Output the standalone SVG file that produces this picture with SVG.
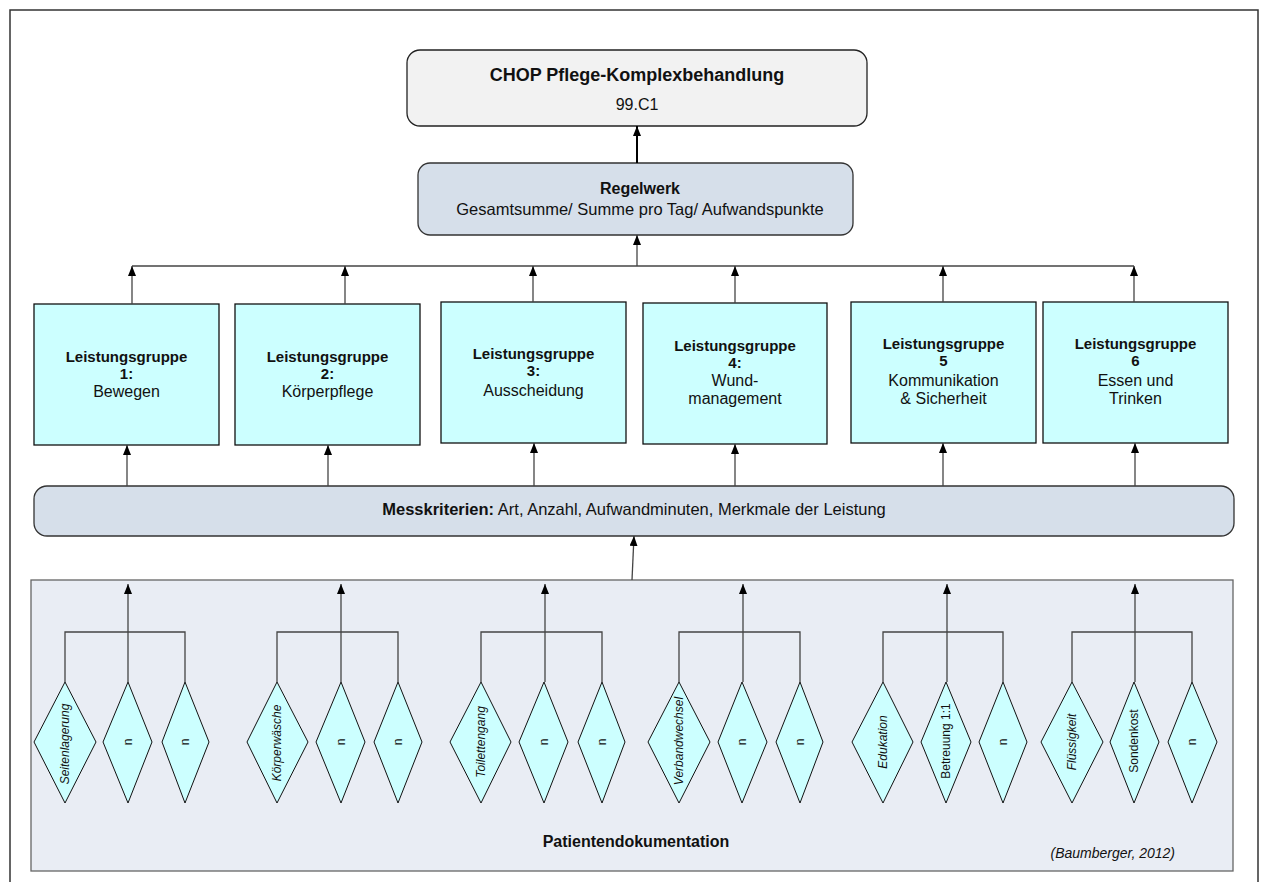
<svg xmlns="http://www.w3.org/2000/svg" width="1263" height="882" viewBox="0 0 1263 882">
<defs>
<marker id="ah" markerUnits="userSpaceOnUse" markerWidth="10" markerHeight="8" viewBox="0 0 10 8" refX="10" refY="4" orient="auto"><path d="M0,0 L10,4 L0,8 z" fill="#000"/></marker>
<style>
text{font-family:"Liberation Sans",Arial,sans-serif;fill:#111}
.b{font-weight:bold}
.lg{fill:#ccffff;stroke:#111;stroke-width:1.3}
.dm{fill:#ccffff;stroke:#111;stroke-width:1}
.c{fill:none;stroke:#444;stroke-width:1.3}
.ca{fill:none;stroke:#444;stroke-width:1.3;marker-end:url(#ah)}
.dt{font-size:12px;text-anchor:middle;dominant-baseline:central}
.i{font-style:italic}
.lt{font-size:16px;text-anchor:middle}
.lb{font-size:15px;font-weight:bold;text-anchor:middle}
</style>
</defs>
<rect x="0" y="0" width="1263" height="882" fill="#fff"/>
<path d="M10,882 V10 H1258 V882" fill="none" stroke="#333" stroke-width="1.5"/>

<g id="patientendokumentation">
<rect x="31" y="580" width="1202" height="291" fill="#e9edf4" stroke="#666" stroke-width="1.3"/>
<text x="636" y="847" class="b" font-size="16" text-anchor="middle">Patientendokumentation</text>
<text x="1175" y="858" font-size="14" font-style="italic" text-anchor="end" style="font-family:'Liberation Sans',Arial,sans-serif">(Baumberger, 2012)</text>
</g>

<g id="chop">
<rect x="407" y="50" width="460" height="76" rx="13" fill="#f2f2f2" stroke="#222" stroke-width="1.3"/>
<text x="637" y="81" class="b" font-size="18" text-anchor="middle">CHOP Pflege-Komplexbehandlung</text>
<text x="637" y="110" font-size="16" text-anchor="middle">99.C1</text>
</g>

<g id="regelwerk">
<rect x="418" y="163" width="435" height="72" rx="12" fill="#d6dfea" stroke="#333" stroke-width="1.3"/>
<text x="640" y="194" class="b" font-size="16" text-anchor="middle">Regelwerk</text>
<text x="640" y="215" font-size="16.5" text-anchor="middle">Gesamtsumme/ Summe pro Tag/ Aufwandspunkte</text>
</g>

<g id="lg1">
<rect class="lg" x="34" y="304" width="185" height="141"/>
<text class="lb" x="126.5" y="362">Leistungsgruppe</text>
<text class="lb" x="126.5" y="379">1:</text>
<text class="lt" x="126.5" y="397">Bewegen</text>
</g>
<g id="lg2">
<rect class="lg" x="235" y="304" width="185" height="141"/>
<text class="lb" x="327.5" y="362">Leistungsgruppe</text>
<text class="lb" x="327.5" y="379">2:</text>
<text class="lt" x="327.5" y="397">Körperpflege</text>
</g>
<g id="lg3">
<rect class="lg" x="441" y="302" width="185" height="141"/>
<text class="lb" x="533.5" y="359">Leistungsgruppe</text>
<text class="lb" x="533.5" y="376">3:</text>
<text class="lt" x="533.5" y="396">Ausscheidung</text>
</g>
<g id="lg4">
<rect class="lg" x="643" y="303" width="184" height="141"/>
<text class="lb" x="735" y="351">Leistungsgruppe</text>
<text class="lb" x="735" y="368">4:</text>
<text class="lt" x="735" y="386">Wund-</text>
<text class="lt" x="735" y="404">management</text>
</g>
<g id="lg5">
<rect class="lg" x="851" y="302" width="185" height="141"/>
<text class="lb" x="943.5" y="349">Leistungsgruppe</text>
<text class="lb" x="943.5" y="366">5</text>
<text class="lt" x="943.5" y="386">Kommunikation</text>
<text class="lt" x="943.5" y="404">&amp; Sicherheit</text>
</g>
<g id="lg6">
<rect class="lg" x="1043" y="302" width="185" height="141"/>
<text class="lb" x="1135.5" y="349">Leistungsgruppe</text>
<text class="lb" x="1135.5" y="366">6</text>
<text class="lt" x="1135.5" y="386">Essen und</text>
<text class="lt" x="1135.5" y="404">Trinken</text>
</g>

<g id="messkriterien">
<rect x="34" y="486" width="1200" height="50" rx="13" fill="#d6dfea" stroke="#333" stroke-width="1.3"/>
<text x="634" y="515" font-size="16.5" text-anchor="middle"><tspan font-weight="bold">Messkriterien:</tspan> Art, Anzahl, Aufwandminuten, Merkmale der Leistung</text>
</g>

<g id="diamonds">
<g id="d-seitenlagerung"><polygon class="dm" points="65,682 96,742 65,803 34,742"/><text class="dt i" transform="translate(65,744) rotate(-90)">Seitenlagerung</text></g>
<g id="d-1n1"><polygon class="dm" points="128,682 152,742 128,803 103,742"/><text class="dt" transform="translate(128,742) rotate(-90)">n</text></g>
<g id="d-1n2"><polygon class="dm" points="185,682 209,742 185,803 162,742"/><text class="dt" transform="translate(185,742) rotate(-90)">n</text></g>

<g id="d-koerperwaesche"><polygon class="dm" points="277,682 308,742 277,803 247,742"/><text class="dt i" transform="translate(277,743) rotate(-90)">Körperwäsche</text></g>
<g id="d-2n1"><polygon class="dm" points="341,682 365,742 341,803 316,742"/><text class="dt" transform="translate(341,742) rotate(-90)">n</text></g>
<g id="d-2n2"><polygon class="dm" points="398,682 422,742 398,803 374,742"/><text class="dt" transform="translate(398,742) rotate(-90)">n</text></g>

<g id="d-toilettengang"><polygon class="dm" points="481,682 511,742 481,803 450,742"/><text class="dt i" transform="translate(481,742) rotate(-90)">Toilettengang</text></g>
<g id="d-3n1"><polygon class="dm" points="544,682 568,742 544,803 519,742"/><text class="dt" transform="translate(544,742) rotate(-90)">n</text></g>
<g id="d-3n2"><polygon class="dm" points="602,682 625,742 602,803 578,742"/><text class="dt" transform="translate(602,742) rotate(-90)">n</text></g>

<g id="d-verbandwechsel"><polygon class="dm" points="679,682 710,742 679,803 648,742"/><text class="dt i" transform="translate(679,741) rotate(-90)">Verbandwechsel</text></g>
<g id="d-4n1"><polygon class="dm" points="742,682 767,742 742,803 718,742"/><text class="dt" transform="translate(742,742) rotate(-90)">n</text></g>
<g id="d-4n2"><polygon class="dm" points="800,682 823,742 800,803 776,742"/><text class="dt" transform="translate(800,742) rotate(-90)">n</text></g>

<g id="d-edukation"><polygon class="dm" points="883,682 913,742 883,803 852,742"/><text class="dt i" transform="translate(883,742) rotate(-90)">Edukation</text></g>
<g id="d-betreuung"><polygon class="dm" points="946,682 971,742 946,803 921,742"/><text class="dt" transform="translate(946,741) rotate(-90)">Betreuung 1:1</text></g>
<g id="d-5n"><polygon class="dm" points="1003,682 1027,742 1003,803 979,742"/><text class="dt" transform="translate(1003,742) rotate(-90)">n</text></g>

<g id="d-fluessigkeit"><polygon class="dm" points="1072,682 1103,742 1072,803 1041,742"/><text class="dt i" transform="translate(1072,742) rotate(-90)">Flüssigkeit</text></g>
<g id="d-sondenkost"><polygon class="dm" points="1134,682 1159,742 1134,803 1110,742"/><text class="dt" transform="translate(1134,741) rotate(-90)">Sondenkost</text></g>
<g id="d-6n"><polygon class="dm" points="1192,682 1217,742 1192,803 1168,742"/><text class="dt" transform="translate(1192,742) rotate(-90)">n</text></g>
</g>

<g id="connectors">
<path d="M637,163 V126" fill="none" stroke="#000" stroke-width="2" marker-end="url(#ah)"/>
<path class="c" d="M132,266 H1134"/>
<path class="ca" d="M637,266 V235"/>
<path class="ca" d="M132,304 V266"/>
<path class="ca" d="M345,304 V266"/>
<path class="ca" d="M533,302 V266"/>
<path class="ca" d="M735,303 V266"/>
<path class="ca" d="M943,302 V266"/>
<path class="ca" d="M1134,302 V266"/>
<path class="ca" d="M127,486 V445"/>
<path class="ca" d="M328,486 V445"/>
<path class="ca" d="M534,486 V443"/>
<path class="ca" d="M735,486 V444"/>
<path class="ca" d="M943,486 V443"/>
<path class="ca" d="M1135,486 V443"/>
<path class="ca" d="M632,580 L634,536"/>
<path class="c" d="M65,682 V632 H185 V682"/>
<path class="ca" d="M128,682 V584"/>
<path class="c" d="M277,682 V632 H398 V682"/>
<path class="ca" d="M341,682 V584"/>
<path class="c" d="M481,682 V632 H602 V682"/>
<path class="ca" d="M545,682 V584"/>
<path class="c" d="M679,682 V632 H800 V682"/>
<path class="ca" d="M743,682 V584"/>
<path class="c" d="M883,682 V632 H1003 V682"/>
<path class="ca" d="M947,682 V584"/>
<path class="c" d="M1072,682 V632 H1192 V682"/>
<path class="ca" d="M1135,682 V584"/>
</g>
</svg>
